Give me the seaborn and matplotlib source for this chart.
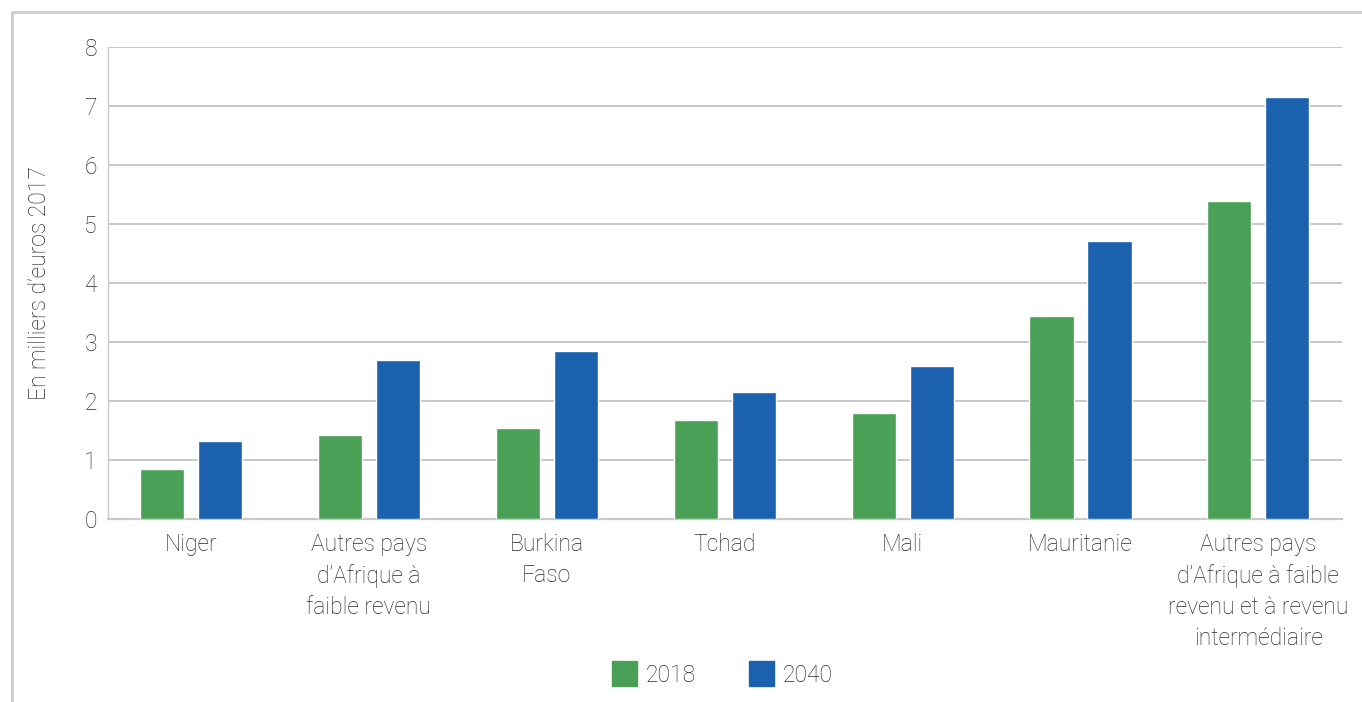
import matplotlib
matplotlib.use("Agg")
import matplotlib.pyplot as plt
import matplotlib.lines as mlines
import seaborn as sns
import pandas as pd

# Revenu par habitant, en milliers d'euros 2017
categories = [
    "Niger",
    "Autres pays\nd\u2019Afrique à\nfaible revenu",
    "Burkina\nFaso",
    "Tchad",
    "Mali",
    "Mauritanie",
    "Autres pays\nd\u2019Afrique à faible\nrevenu et à revenu\nintermédiaire",
]
values_2018 = [0.84, 1.42, 1.54, 1.67, 1.79, 3.44, 5.39]
values_2040 = [1.33, 2.69, 2.84, 2.16, 2.60, 4.71, 7.15]
years = ["2018", "2040"]
colors = ["#49A056", "#1B61AE"]

df = pd.DataFrame({
    "pays": categories * 2,
    "annee": [years[0]] * len(categories) + [years[1]] * len(categories),
    "valeur": values_2018 + values_2040,
})

sns.set_theme(style="white")
plt.rcParams["font.family"] = ["Roboto", "DejaVu Sans"]
plt.rcParams["font.weight"] = "light"
text_color = "#2A2A2A"
grid_color = "#C8C8C8"
fs = 16.5

fig = plt.figure(figsize=(13.62, 7.02), dpi=100)
ax = fig.add_axes([108 / 1362, 1 - 519 / 702, (1342 - 108) / 1362, (519 - 47) / 702])

sns.barplot(data=df, x="pays", y="valeur", hue="annee", order=categories,
            hue_order=years, palette=colors, width=0.652, gap=0.24,
            saturation=1, ax=ax, legend=False, zorder=3)

ax.set_ylim(0, 8)
ax.set_yticks(range(0, 9))
ax.set_xlim(-0.466, len(categories) - 0.53)
ax.yaxis.grid(True, color=grid_color, linewidth=1.4, zorder=0)
ax.set_axisbelow(True)
for side in ["top", "right"]:
    ax.spines[side].set_visible(False)
ax.spines["left"].set_color(grid_color)
ax.spines["left"].set_linewidth(1.0)
ax.spines["bottom"].set_color(grid_color)
ax.spines["bottom"].set_linewidth(1.6)
ax.tick_params(axis="both", length=0, labelsize=fs, colors=text_color)
ax.tick_params(axis="y", pad=8)
ax.tick_params(axis="x", pad=10)
for lbl in ax.get_xticklabels():
    lbl.set_linespacing(1.45)
    lbl.set_verticalalignment("top")
    lbl.set_fontweight("light")
for lbl in ax.get_yticklabels():
    lbl.set_fontweight("light")

ax.set_xlabel("")
ax.set_ylabel("En milliers d\u2019euros 2017", fontsize=fs, color=text_color,
              fontweight="light")
ax.yaxis.set_label_coords((51 - 108) / 1234, 0.5)

# Légende en bas, centrée sous le graphique
handles = [
    mlines.Line2D([], [], marker="s", linestyle="none", markersize=18,
                  markerfacecolor=c, markeredgecolor=c)
    for c in colors
]
leg = fig.legend(handles, years, loc="center", bbox_to_anchor=(722 / 1362, 1 - 675 / 702),
                 ncol=2, frameon=False, fontsize=fs, labelcolor=text_color,
                 handletextpad=0.4, columnspacing=2.3, handlelength=1.1)
for t in leg.get_texts():
    t.set_fontweight("light")

# Cadre gris autour de la figure
frame_kw = dict(color="#CCCCCC", linewidth=2.0, transform=fig.transFigure)
fig.add_artist(mlines.Line2D([12 / 1362, 12 / 1362], [0, 1 - 12 / 702], **frame_kw))
fig.add_artist(mlines.Line2D([12 / 1362, 1], [1 - 12 / 702, 1 - 12 / 702], **frame_kw))

fig.savefig("out.png", dpi=100)
